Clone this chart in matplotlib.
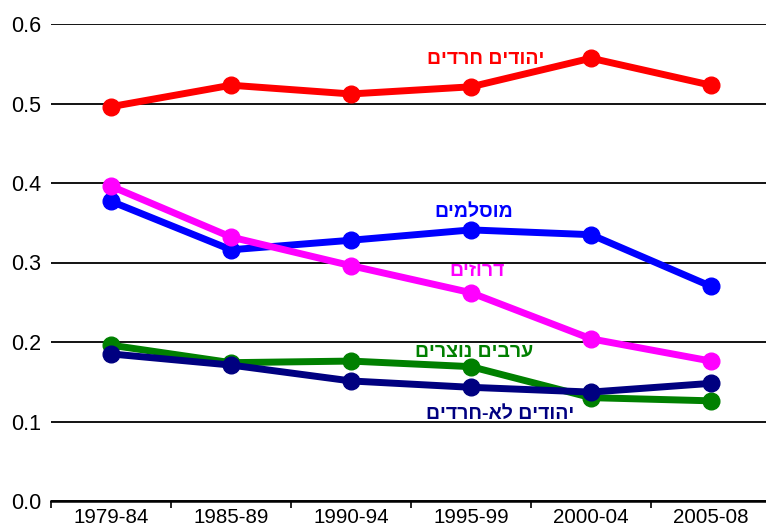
import matplotlib
matplotlib.use("Agg")
import matplotlib.pyplot as plt
import numpy as np

plt.rcParams['font.family'] = ['Liberation Sans', 'DejaVu Sans']

periods = ["1979-84", "1985-89", "1990-94", "1995-99", "2000-04", "2005-08"]
haredi = [0.496, 0.523, 0.512, 0.521, 0.557, 0.523]
muslims = [0.377, 0.316, 0.328, 0.341, 0.335, 0.270]
druze = [0.396, 0.332, 0.296, 0.262, 0.204, 0.176]
christian_arabs = [0.196, 0.174, 0.176, 0.169, 0.130, 0.126]
non_haredi = [0.185, 0.171, 0.151, 0.143, 0.137, 0.148]

series = [
    ("יהודים חרדים", haredi, "#FF0000", (3.12, 0.555)),
    ("מוסלמים", muslims, "#0000FF", (3.02, 0.3635)),
    ("דרוזים", druze, "#FF00FF", (3.05, 0.289)),
    ("ערבים נוצרים", christian_arabs, "#008000", (3.03, 0.187)),
    ("יהודים לא-חרדים", non_haredi, "#000080", (3.24, 0.109)),
]

fig = plt.figure(figsize=(7.66, 5.26), dpi=100)
ax = fig.add_axes([51/766, 25/526, 720/766, 477/526])
x = np.arange(len(periods))

for name, vals, color, pos in series:
    ax.plot(x, vals, color=color, lw=5, marker='o', markersize=12, zorder=3)
    ax.text(pos[0], pos[1], name[::-1], color=color, fontsize=14,
            fontweight='bold', ha='center', va='center', zorder=4)

ax.set_xlim(-0.5, 5.5)
ax.set_ylim(0, 0.6)
ax.set_yticks(np.arange(0, 0.61, 0.1))
ax.set_yticklabels([f"{v:.1f}" for v in np.arange(0, 0.61, 0.1)], fontsize=15.5)
ax.set_xticks(x)
ax.set_xticklabels(periods, fontsize=14.8)
ax.set_xticks(np.arange(-0.5, 5.6, 1), minor=True)
ax.tick_params(axis='x', which='major', length=0, pad=5)
ax.tick_params(axis='x', which='minor', length=5, width=1.2, direction='out', color='black')
ax.tick_params(axis='y', length=0, pad=7)
ax.yaxis.grid(True, color='black', lw=1.3)
ax.set_axisbelow(True)
for s in ['left', 'right', 'top']:
    ax.spines[s].set_visible(False)
ax.spines['bottom'].set_linewidth(1.8)
ax.spines['bottom'].set_zorder(2)

fig.savefig("out.png", dpi=100)
